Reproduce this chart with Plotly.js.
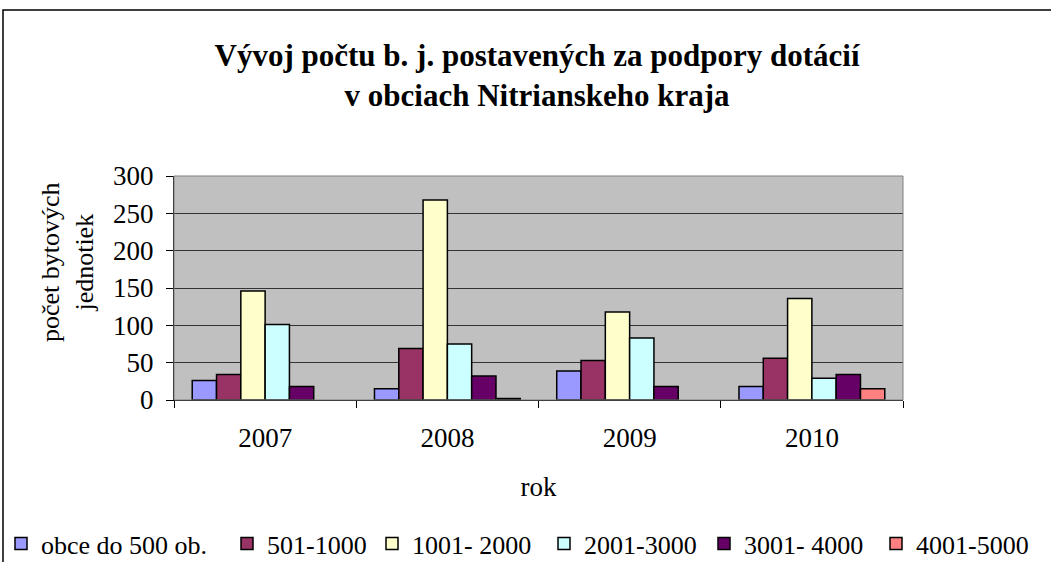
<!DOCTYPE html>
<html>
<head>
<meta charset="utf-8">
<script src="https://cdn.plot.ly/plotly-3.0.1.min.js"></script>
<style>
html,body{margin:0;padding:0;background:#fff;}
#chart{width:1051px;height:562px;}
</style>
</head>
<body>
<div id="chart"></div>
<script>
const years = ['2007', '2008', '2009', '2010'];
const seriesNames = ['obce do 500 ob.', '501-1000', '1001- 2000', '2001-3000', '3001- 4000', '4001-5000'];
const obce500 = [26, 15, 39, 18];
const s501_1000 = [34, 69, 53, 56];
const s1001_2000 = [146, 268, 118, 136];
const s2001_3000 = [101, 75, 83, 29];
const s3001_4000 = [18, 32, 18, 34];
const s4001_5000 = [null, 2, null, 15];
const yTicks = [0, 50, 100, 150, 200, 250, 300];

const seriesValues = [obce500, s501_1000, s1001_2000, s2001_3000, s3001_4000, s4001_5000];
const colors = ['#9999FF', '#993366', '#FFFFCC', '#CCFFFF', '#660066', '#FF8080'];
const legendWidths = [181, 100, 127, 115, 127, 120];
const legendGroups = ['legend', 'legend', 'legend', 'legend2', 'legend2', 'legend2'];

const W = 1051, H = 562;
const M = {l: 174, r: 148, t: 176, b: 162};
const pw = W - M.l - M.r, ph = H - M.t - M.b;
const px = v => (v - M.l) / pw;
const py = v => (H - M.b - v) / ph;

const font = '"Liberation Serif", "Times New Roman", serif';

const traces = seriesNames.map((name, i) => ({
  type: 'bar',
  name: name,
  x: years,
  y: seriesValues[i],
  marker: {color: colors[i], line: {color: '#000', width: 1.5}},
  legend: legendGroups[i],
  legendwidth: legendWidths[i],
  hoverinfo: 'x+y+name'
}));

const legendBase = {
  orientation: 'h',
  xref: 'container', yref: 'container',
  xanchor: 'left',
  y: 1 - 520 / H, yanchor: 'top',
  font: {family: font, size: 26, color: '#000'},
  bgcolor: 'rgba(0,0,0,0)',
  traceorder: 'normal',
  itemclick: false
};

const layout = {
  width: W, height: H,
  margin: M,
  paper_bgcolor: '#fff',
  plot_bgcolor: '#C0C0C0',
  font: {family: font, size: 27, color: '#000'},
  barmode: 'group',
  bargap: 0.2,
  bargroupgap: 0,
  title: {
    text: '<b>Vývoj počtu b. j. postavených za podpory dotácií<br>v obciach Nitrianskeho kraja</b>',
    font: {family: font, size: 31, color: '#000'},
    x: 0.511, xanchor: 'center', xref: 'container',
    y: 1 - 66 / H, yanchor: 'top', yref: 'container'
  },
  xaxis: {
    type: 'category',
    tickson: 'boundaries',
    ticks: 'outside', ticklen: 7, tickcolor: '#000', tickwidth: 1,
    showline: true, linecolor: '#000', linewidth: 1,
    showgrid: false,
    tickfont: {family: font, size: 27},
    ticklabelstandoff: 14,
    title: {text: 'rok', font: {family: font, size: 27}, standoff: 24}
  },
  yaxis: {
    range: [0, 300],
    tickvals: yTicks,
    ticktext: yTicks.map(String),
    ticks: 'outside', ticklen: 7, tickcolor: '#000', tickwidth: 1,
    showline: true, linecolor: '#000', linewidth: 1,
    showgrid: true, gridcolor: '#333', gridwidth: 1,
    zeroline: false,
    tickfont: {family: font, size: 27},
    ticklabelstandoff: 7,
    fixedrange: true
  },
  showlegend: true,
  legend: Object.assign({}, legendBase, {x: 1 / W}),
  legend2: Object.assign({}, legendBase, {x: 544 / W}),
  annotations: [{
    text: 'počet bytových<br>jednotiek',
    xref: 'paper', yref: 'paper',
    x: px(67), y: py(262),
    xanchor: 'center', yanchor: 'middle',
    textangle: -90,
    showarrow: false,
    font: {family: font, size: 26, color: '#000'}
  }],
  shapes: [
    {type: 'rect', xref: 'paper', yref: 'paper', x0: 0, x1: 1, y0: 0, y1: 1,
     line: {color: '#808080', width: 1}, fillcolor: 'rgba(0,0,0,0)', layer: 'above'},
    {type: 'rect', xref: 'paper', yref: 'paper', x0: px(3), x1: px(1060), y0: py(575), y1: py(10),
     line: {color: '#000', width: 1.5}, fillcolor: 'rgba(0,0,0,0)', layer: 'below'}
  ]
};

Plotly.newPlot('chart', traces, layout, {displayModeBar: false, staticPlot: true});
</script>
</body>
</html>
